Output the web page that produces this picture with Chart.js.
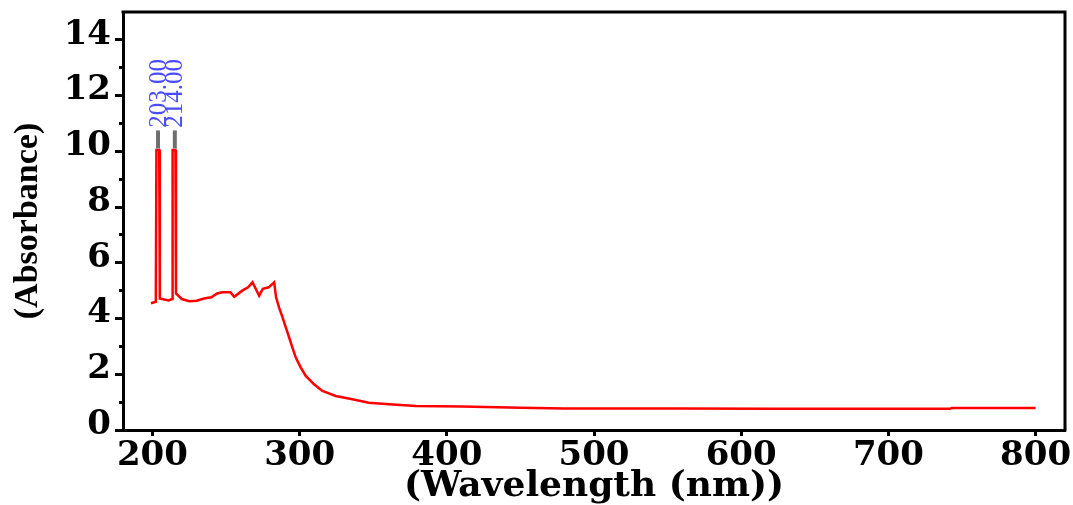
<!DOCTYPE html>
<html><head><meta charset="utf-8">
<script src="https://cdn.jsdelivr.net/npm/chart.js@4.4.1/dist/chart.umd.min.js"></script>
<style>html,body{margin:0;padding:0;background:#fff;overflow:hidden}canvas{display:block}</style>
</head><body>
<canvas id="c" width="1073" height="505"></canvas>
<script>
const wavelength = [199, 202.3, 202.7, 204.6, 205.0, 208, 211, 213.3, 213.7, 215.6, 216.0, 220, 225, 230, 235, 240, 244, 247.5, 253, 255.6, 261, 265, 268, 272.5, 275, 279, 282.7, 284, 286, 288.4, 290.6, 292.9, 295.1, 297.4, 300.8, 304.2, 309.8, 315.5, 324.5, 335.8, 347, 360.7, 379, 410, 450, 480, 557, 620, 700, 742, 743, 800];
const absorbance = [4.55, 4.6, 10.05, 10.05, 4.72, 4.68, 4.65, 4.7, 10.05, 10.05, 4.9, 4.7, 4.62, 4.64, 4.72, 4.76, 4.9, 4.94, 4.94, 4.78, 5.0, 5.12, 5.3, 4.82, 5.07, 5.12, 5.3, 4.76, 4.4, 4.04, 3.68, 3.32, 2.96, 2.6, 2.24, 1.94, 1.64, 1.4, 1.22, 1.1, 0.98, 0.92, 0.86, 0.84, 0.8, 0.77, 0.77, 0.76, 0.76, 0.76, 0.79, 0.79];
const xTickValues = [200, 300, 400, 500, 600, 700, 800];
const yTickValues = [0, 2, 4, 6, 8, 10, 12, 14];
const yMinorTickValues = [1, 3, 5, 7, 9, 11, 13];
const peakWavelengths = [203.8, 215.2];
const peakLabels = ['203.00', '214.00'];
const peakMarkerRange = [10.1, 10.75];
const peakLabelStart = 10.85;

const tickFont = {family: '"DejaVu Serif", serif', weight: 'bold', size: 34};

const framePlugin = {
  id: 'frame',
  afterDatasetsDraw(chart) {
    const {ctx, chartArea: a, scales} = chart;
    ctx.save();
    ctx.strokeStyle = '#000';
    ctx.lineWidth = 3;
    ctx.beginPath();
    ctx.moveTo(a.left - 1.5, a.top);
    ctx.lineTo(a.right, a.top);
    ctx.lineTo(a.right, a.bottom + 1.5);
    ctx.stroke();
    const xs = scales.x, ys = scales.y;
    peakWavelengths.forEach((w, i) => {
      const px = xs.getPixelForValue(w);
      ctx.strokeStyle = '#6e6e6e';
      ctx.lineWidth = 4;
      ctx.beginPath();
      ctx.moveTo(px, ys.getPixelForValue(peakMarkerRange[0]));
      ctx.lineTo(px, ys.getPixelForValue(peakMarkerRange[1]));
      ctx.stroke();
      ctx.save();
      ctx.translate(px + 1, ys.getPixelForValue(peakLabelStart));
      ctx.rotate(-Math.PI / 2);
      ctx.fillStyle = '#4a4aff';
      ctx.font = '25px "Liberation Serif", serif';
      ctx.textAlign = 'left';
      ctx.textBaseline = 'middle';
      ctx.fillText(peakLabels[i], 0, 0);
      ctx.restore();
    });
    ctx.restore();
  }
};

new Chart(document.getElementById('c'), {
  type: 'line',
  data: {
    labels: wavelength,
    datasets: [{
      data: wavelength.map((w, i) => ({x: w, y: absorbance[i]})),
      borderColor: '#ff0000',
      borderWidth: 2.5,
      pointRadius: 0,
      tension: 0,
      fill: false
    }]
  },
  options: {
    responsive: false,
    devicePixelRatio: 1,
    animation: false,
    layout: {padding: {top: 12, right: 8, left: 0, bottom: 0}},
    plugins: {legend: {display: false}, tooltip: {enabled: false}},
    scales: {
      x: {
        type: 'linear', position: 'bottom', min: 180, max: 820,
        afterBuildTicks: s => { s.ticks = xTickValues.map(v => ({value: v})); },
        afterFit: s => { s.height = 75; s.paddingLeft = 0; s.paddingRight = 0; },
        ticks: {font: tickFont, color: '#000', padding: 0, maxRotation: 0, autoSkip: false},
        grid: {drawOnChartArea: false, tickLength: 6, tickWidth: 3, tickColor: '#000'},
        border: {display: true, width: 3, color: '#000'},
        title: {display: true, text: '(Wavelength (nm))', color: '#000',
          font: {family: '"DejaVu Serif", serif', weight: 'bold', size: 36, lineHeight: 1.0}, padding: 0}
      },
      y: {
        type: 'linear', position: 'left', min: 0, max: 15, weight: 1,
        afterBuildTicks: s => { s.ticks = yTickValues.map(v => ({value: v})); },
        afterFit: s => { s.width = 123; s.paddingTop = 0; s.paddingBottom = 0; },
        ticks: {font: tickFont, color: '#000', padding: 4, labelOffset: -5, autoSkip: false},
        grid: {drawOnChartArea: false, tickLength: 8, tickWidth: 3, tickColor: '#000'},
        border: {display: true, width: 3, color: '#000'},
        title: {display: true, text: '(Absorbance)', color: '#000',
          font: {family: '"Liberation Serif", serif', weight: 'bold', size: 34}, padding: 8}
      },
      yMinor: {
        type: 'linear', position: 'left', min: 0, max: 15, weight: 0,
        afterBuildTicks: s => { s.ticks = yMinorTickValues.map(v => ({value: v})); },
        afterFit: s => { s.width = 0; s.paddingTop = 0; s.paddingBottom = 0; },
        ticks: {display: false},
        grid: {drawOnChartArea: false, tickLength: 4, tickWidth: 3, tickColor: '#000'},
        border: {display: false}
      }
    }
  },
  plugins: [framePlugin]
});
</script>
</body></html>
